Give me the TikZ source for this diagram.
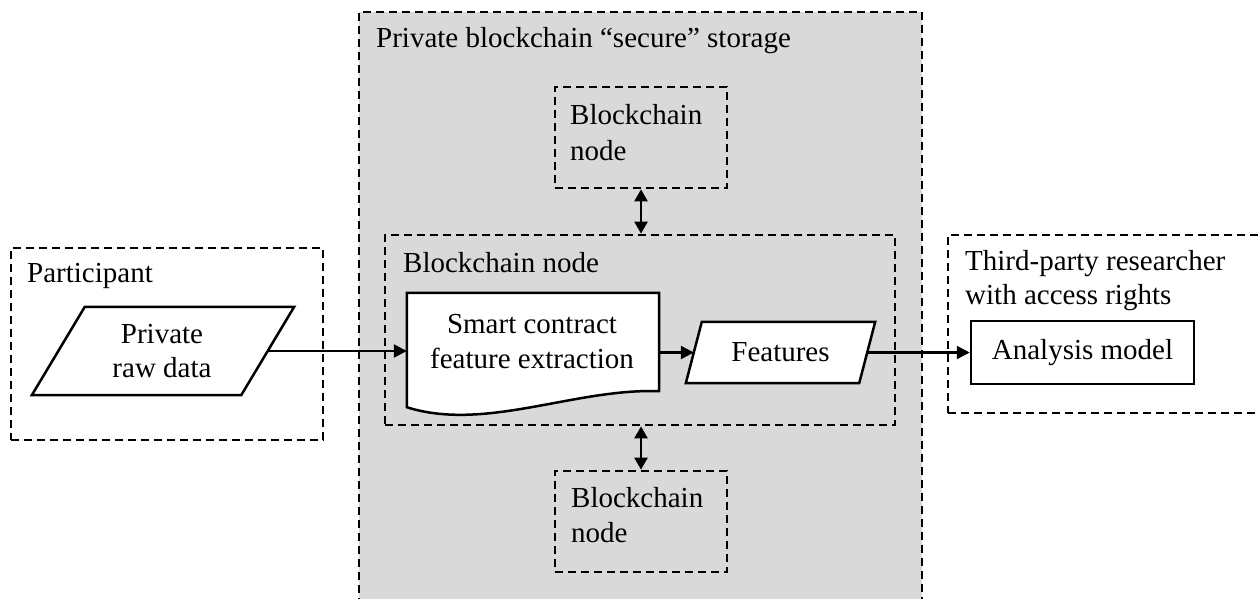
\documentclass[tikz,border=0pt]{standalone}
\usepackage{fontspec}
\setmainfont{Liberation Serif}
\usetikzlibrary{arrows.meta}
\definecolor{storagegray}{RGB}{217,217,217}
\tikzset{
  zone/.style={draw, line width=2.7pt, dash pattern=on 8pt off 5pt, rectangle, inner sep=0pt},
  solidshape/.style={draw, line width=2.5pt, fill=white, line join=miter},
  flow/.style={line width=2.4pt, -{Triangle[length=13pt,width=13pt]}},
  link/.style={line width=2.4pt, {Triangle[length=12pt,width=13pt]}-{Triangle[length=12pt,width=13pt]}},
  lbl/.style={anchor=base west, inner sep=0pt},
  ctr/.style={anchor=base, inner sep=0pt},
  body/.style={rectangle, inner sep=0pt},
}
\begin{document}
\begin{tikzpicture}[x=1pt,y=-1pt,font=\fontsize{29}{36}\selectfont]
\useasboundingbox (0,0) rectangle (1258,598);
\clip (0,0) rectangle (1258,598);
\fill[white] (0,0) rectangle (1258,598);

% shared ledger area
\node[zone, fill=storagegray, minimum width=563pt, minimum height=628pt] (storage) at (640.5,326) {};
\node[lbl] (storagetitle) at (376,47) {Private blockchain “secure” storage};

% participant side
\node[zone, minimum width=312pt, minimum height=192pt] (participant) at (167,344) {};
\node[lbl] (participantlbl) at (27,282) {Participant};
\node[body, minimum width=209pt, minimum height=88pt] (raw) at (163,351) {};
\draw[solidshape] ([xshift=26.5pt]raw.north west) -- ([xshift=26.5pt]raw.north east)
  -- ([xshift=-26.5pt]raw.south east) -- ([xshift=-26.5pt]raw.south west) -- cycle;
\node[ctr] (rawtxta) at (162,343) {Private};
\node[ctr] (rawtxtb) at (162,377) {raw data};

% central blockchain node
\node[zone, minimum width=510pt, minimum height=190pt] (chainnode) at (640,330) {};
\node[lbl] (chainlbl) at (403,272) {Blockchain node};
\node[body, minimum width=252pt, minimum height=98pt] (doc) at (533,342) {};
\draw[solidshape] (doc.south east) -- (doc.north east) -- (doc.north west)
  -- ([yshift=-16pt]doc.south west) .. controls (485,432) and (575,388) .. (doc.south east) -- cycle;
\node[ctr] (doctxta) at (532,333) {Smart contract};
\node[ctr] (doctxtb) at (532,368) {feature extraction};
\node[body, minimum width=173pt, minimum height=61pt] (feat) at (780.5,352.5) {};
\draw[solidshape] ([xshift=8pt]feat.north west) -- ([xshift=8pt]feat.north east)
  -- ([xshift=-8pt]feat.south east) -- ([xshift=-8pt]feat.south west) -- cycle;
\node (feattxt) at (feat.center) {Features};

% peer nodes
\node[zone, minimum width=172pt, minimum height=101pt] (upper) at (641,137.5) {};
\node[lbl] (uppera) at (570,124) {Blockchain};
\node[lbl] (upperb) at (570,160) {node};
\node[zone, minimum width=172pt, minimum height=101pt] (lower) at (641,521.5) {};
\node[lbl] (lowera) at (571,507) {Blockchain};
\node[lbl] (lowerb) at (571,542) {node};

% researcher side
\node[zone, minimum width=352pt, minimum height=178pt] (thirdparty) at (1124,324) {};
\node[lbl] (thirda) at (965,270) {Third-party researcher};
\node[lbl] (thirdb) at (965,304) {with access rights};
\node[draw, line width=2.5pt, fill=white, inner sep=0pt, minimum width=223pt, minimum height=63pt] (analysis) at (1082.5,352.5) {Analysis model};

% connectors
\draw[flow] (raw.east) -- (raw.east -| doc.west);
\draw[flow] (doc.east |- feat.west) -- (feat.west);
\draw[flow] (feat.east) -- (analysis.west);
\draw[link] (upper.south) -- (upper.south |- chainnode.north);
\draw[link] (lower.north) -- (lower.north |- chainnode.south);
\end{tikzpicture}
\end{document}
